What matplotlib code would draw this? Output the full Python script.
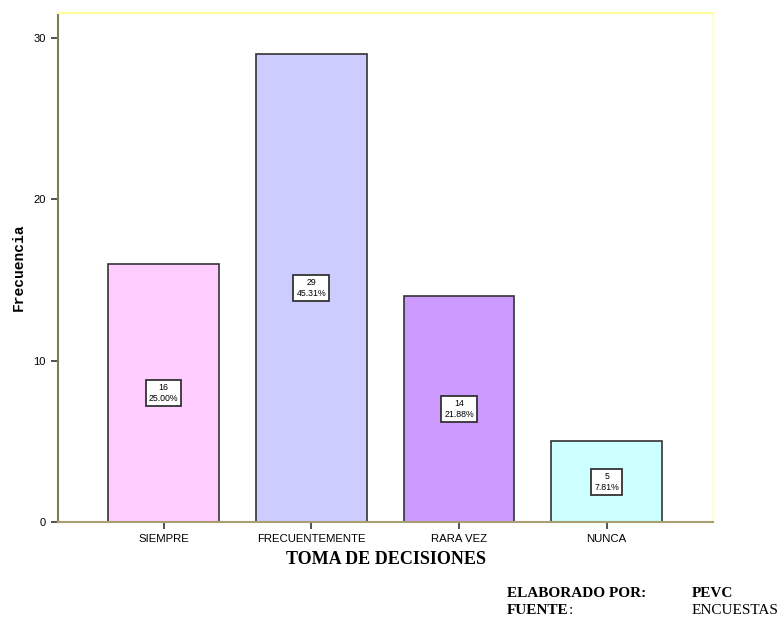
import matplotlib
matplotlib.use("Agg")
import matplotlib.pyplot as plt

categories = ["SIEMPRE", "FRECUENTEMENTE", "RARA VEZ", "NUNCA"]
counts = [16, 29, 14, 5]
percents = ["25.00%", "45.31%", "21.88%", "7.81%"]
colors = ["#FFCCFF", "#CCCCFF", "#CC99FF", "#CCFFFF"]

fig = plt.figure(figsize=(7.81, 6.19), dpi=100)
ax = fig.add_axes([58/781, 1-522/619, (713-58)/781, (522-13)/619])

x = range(len(categories))
ax.bar(x, counts, width=0.75, color=colors, edgecolor="#333333", linewidth=1.2, zorder=2)
for i, (c, p) in enumerate(zip(counts, percents)):
    ax.text(i, c/2, f"{c}\n{p}", ha="center", va="center", fontsize=6.3,
            family="Liberation Sans", linespacing=1.25, zorder=3,
            bbox=dict(boxstyle="square,pad=0.35", fc="white", ec="#333333", lw=1.3))

ax.set_xlim(-0.715, 3.72)
ax.set_ylim(0, 31.55)
ax.set_yticks([0, 10, 20, 30])
ax.set_xticks(list(x))
ax.set_xticklabels(categories, fontsize=8.2, family="Liberation Sans")
for lab in ax.get_yticklabels():
    lab.set_fontsize(8)
    lab.set_family("Liberation Sans")
ax.tick_params(axis="both", length=5, width=1.2, color="#333333", pad=4)

ax.spines["left"].set_color("#7d7d55")
ax.spines["bottom"].set_color("#a8a070")
ax.spines["top"].set_color("#FFFF99")
ax.spines["right"].set_color("#FFFFCC")
for s in ax.spines.values():
    s.set_linewidth(1.5)

ax.set_ylabel("Frecuencia", family="Liberation Mono", fontweight="bold", fontsize=10.5, labelpad=5)
ax.set_xlabel("TOMA DE DECISIONES", family="Liberation Serif", fontweight="bold", fontsize=13, labelpad=5)

fs = 11
fig.text(507/781, 1-597/619, "ELABORADO POR:", family="Liberation Serif", fontweight="bold", fontsize=fs, va="baseline")
fig.text(692/781, 1-597/619, "PEVC", family="Liberation Serif", fontweight="bold", fontsize=fs, va="baseline")
t = fig.text(507/781, 1-614/619, "FUENTE", family="Liberation Serif", fontweight="bold", fontsize=fs, va="baseline")
fig.canvas.draw()
bb = t.get_window_extent()
fig.text((bb.x1 + 0.2)/781, 1-614/619, ":", family="Liberation Serif", fontsize=fs, va="baseline")
fig.text(692/781, 1-614/619, "ENCUESTAS", family="Liberation Serif", fontsize=fs, va="baseline")

fig.savefig("out.png", dpi=100)
